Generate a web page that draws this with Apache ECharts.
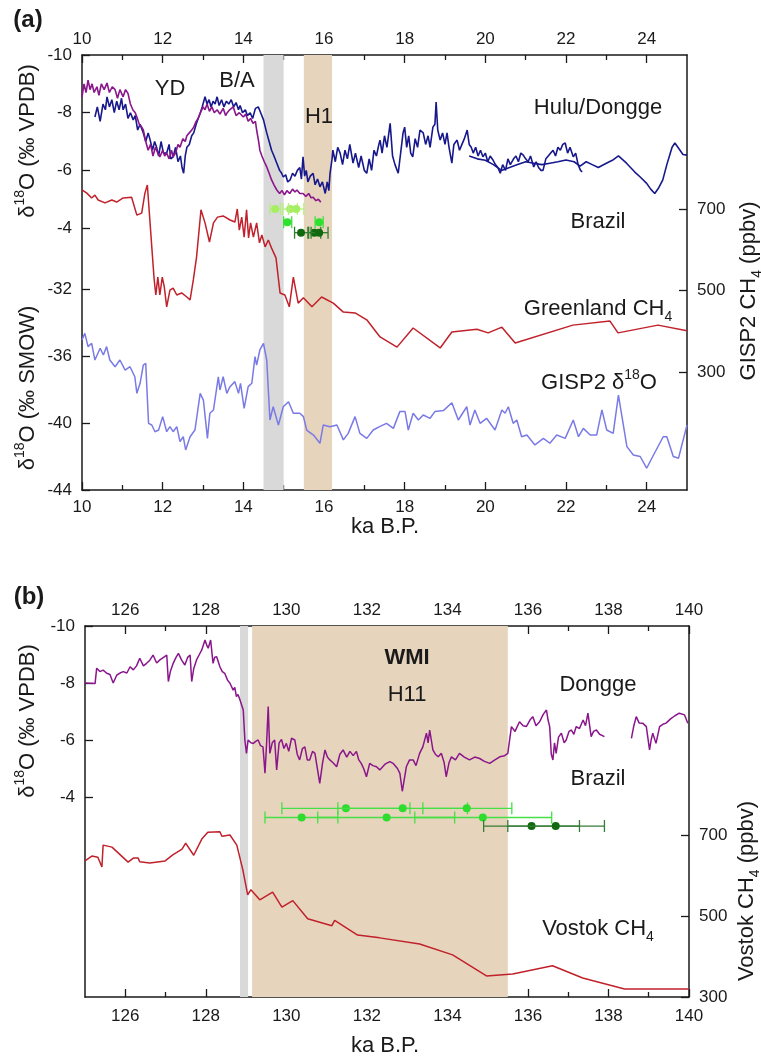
<!DOCTYPE html>
<html><head><meta charset="utf-8">
<script src="https://cdn.jsdelivr.net/npm/echarts@6/dist/echarts.min.js"></script>
<style>html,body{margin:0;padding:0;background:#fff}#c{width:761px;height:1057px}</style>
</head><body><div id="c"></div>
<script>
// ---------------- DATA ----------------
// Panel (a) x ticks (ka B.P.)
const xTicksA = [10,12,14,16,18,20,22,24];
const xMinorA = [11,13,15,17,19,21,23];
const xTicksB = [126,128,130,132,134,136,138,140];
const xMinorB = [127,129,131,133,135,137,139];
const yTicksVPDB = [-10,-8,-6,-4];
const yTicksSMOW = [-44,-40,-36,-32];
const yTicksCH4 = [300,500,700];

// Hulu (noisy) speleothem d18O, panel (a)
const huluA = [[10.32,-7.85],[10.38,-8.2],[10.45,-7.7],[10.52,-8.3],[10.58,-8.1],[10.62,-8.55],[10.68,-8.2],[10.74,-8.45],[10.8,-8.0],[10.86,-8.4],[10.92,-8.1],[10.98,-8.5],[11.02,-8.1],[11.08,-8.3],[11.14,-7.8],[11.2,-8.0],[11.27,-7.75],[11.32,-7.9],[11.38,-7.4],[11.44,-7.6],[11.52,-7.3],[11.58,-7.0],[11.64,-7.3],[11.69,-7.05],[11.75,-6.7],[11.8,-7.0],[11.85,-6.8],[11.9,-6.5],[11.96,-7.0],[12.02,-6.6],[12.1,-6.6],[12.16,-6.9],[12.2,-6.4],[12.26,-6.47],[12.32,-6.8],[12.38,-6.3],[12.44,-6.5],[12.48,-6.1],[12.52,-5.9],[12.56,-6.5],[12.6,-6.8],[12.66,-6.9],[12.72,-7.2],[12.77,-7.3],[12.83,-7.6],[12.88,-7.8],[12.93,-7.98],[12.98,-8.2],[13.05,-8.55],[13.1,-8.3],[13.15,-8.45],[13.2,-8.2],[13.25,-8.4],[13.3,-8.3],[13.35,-8.55],[13.4,-8.25],[13.46,-8.45],[13.52,-8.2],[13.58,-8.4],[13.64,-8.3],[13.7,-8.45],[13.76,-8.2],[13.82,-8.35],[13.88,-8.1],[13.92,-8.25],[13.98,-8.0],[14.05,-8.1],[14.1,-7.9],[14.17,-8.0],[14.23,-7.8],[14.3,-8.15],[14.37,-8.2],[14.43,-8.0],[14.5,-7.75],[14.58,-7.3],[14.64,-7.0],[14.7,-6.7],[14.76,-6.5],[14.83,-6.25],[14.9,-6.0],[14.95,-5.9],[14.99,-5.77],[15.05,-5.85],[15.1,-5.6],[15.16,-5.67],[15.22,-5.9],[15.28,-5.8],[15.34,-6.0],[15.4,-6.1],[15.44,-5.7],[15.48,-6.47],[15.52,-5.8],[15.56,-6.0],[15.6,-5.6],[15.66,-5.8],[15.73,-5.9],[15.78,-5.5],[15.84,-5.7],[15.9,-5.43],[15.96,-5.6],[16.03,-5.2],[16.08,-5.6],[16.12,-5.3],[16.15,-5.9],[16.2,-6.4],[16.22,-6.7],[16.28,-6.3],[16.34,-6.8],[16.4,-6.6],[16.46,-6.2],[16.52,-6.7],[16.58,-6.4],[16.64,-6.9],[16.72,-6.25],[16.78,-6.6],[16.86,-6.1],[16.92,-6.5],[17.0,-6.0],[17.06,-5.9],[17.12,-6.4],[17.18,-6.0],[17.24,-6.7],[17.3,-6.5],[17.36,-6.9],[17.39,-7.05],[17.44,-6.6],[17.5,-7.2],[17.56,-6.8],[17.64,-7.63],[17.7,-6.5],[17.76,-6.2],[17.84,-5.9],[17.9,-6.6],[17.96,-7.3],[18.0,-7.5],[18.05,-6.8],[18.1,-7.2],[18.15,-6.6],[18.2,-6.47],[18.26,-7.1],[18.32,-6.8],[18.38,-7.4],[18.46,-7.3],[18.52,-6.9],[18.58,-7.2],[18.63,-6.8],[18.7,-7.5],[18.75,-7.6],[18.78,-8.37],[18.82,-7.4],[18.88,-7.05],[18.94,-7.3],[19.0,-6.9],[19.05,-7.3],[19.1,-6.8],[19.17,-6.25],[19.22,-6.9],[19.3,-7.05],[19.36,-6.7],[19.42,-6.9],[19.48,-7.1],[19.55,-7.4],[19.6,-6.9],[19.65,-6.8],[19.7,-6.6],[19.76,-6.8],[19.82,-6.5],[19.88,-6.7],[19.94,-6.47],[20.0,-6.6],[20.06,-6.3],[20.12,-6.5],[20.19,-6.36],[20.25,-6.2],[20.31,-6.1],[20.37,-5.9],[20.43,-6.2],[20.5,-6.0],[20.56,-6.4],[20.62,-6.2],[20.7,-6.4],[20.76,-6.5],[20.82,-6.3],[20.88,-6.6],[20.94,-6.53],[21.0,-6.4],[21.06,-6.3],[21.12,-6.5],[21.2,-6.12],[21.26,-6.3],[21.32,-6.1],[21.38,-6.0],[21.43,-6.0],[21.5,-6.4],[21.56,-6.5],[21.62,-6.6],[21.68,-6.7],[21.74,-6.5],[21.8,-6.8],[21.86,-6.7],[21.92,-6.9],[21.98,-6.95],[22.04,-6.6],[22.1,-6.8],[22.18,-6.47],[22.24,-6.6],[22.3,-6.2],[22.36,-6.0],[22.4,-5.95]];

// Hulu/Dongge (smooth) d18O, panel (a)
const hulu2A = [[19.6,-6.5],[19.8,-6.4],[20.0,-6.35],[20.2,-6.2],[20.4,-6.0],[20.6,-6.1],[20.8,-6.2],[21.0,-6.3],[21.2,-6.25],[21.4,-6.2],[21.6,-6.25],[21.8,-6.3],[22.0,-6.36],[22.2,-6.3],[22.35,-6.15],[22.5,-6.3],[22.65,-6.2],[22.8,-6.1],[23.0,-6.25],[23.15,-6.35],[23.3,-6.5],[23.5,-6.25],[23.7,-5.95],[23.84,-5.77],[24.0,-5.55],[24.1,-5.35],[24.2,-5.2],[24.3,-5.4],[24.4,-5.67],[24.5,-6.2],[24.63,-6.8],[24.7,-6.95],[24.8,-6.75],[24.9,-6.55],[25.0,-6.53]];

// Dongge d18O, panel (a)
const donggeA = [[10.0,-8.55],[10.05,-9.0],[10.1,-8.7],[10.15,-9.13],[10.2,-8.8],[10.25,-9.0],[10.3,-8.7],[10.37,-8.9],[10.42,-8.6],[10.48,-9.0],[10.55,-8.8],[10.62,-9.03],[10.68,-8.7],[10.75,-8.9],[10.82,-8.8],[10.88,-8.5],[10.94,-8.8],[11.02,-8.55],[11.08,-8.8],[11.14,-8.67],[11.2,-8.3],[11.26,-8.1],[11.32,-8.0],[11.36,-7.85],[11.42,-7.6],[11.48,-7.5],[11.52,-7.4],[11.58,-7.0],[11.64,-6.7],[11.7,-6.9],[11.76,-6.5],[11.82,-6.8],[11.88,-6.6],[11.93,-6.47],[12.0,-6.7],[12.05,-6.5],[12.1,-6.6],[12.16,-6.4],[12.22,-6.7],[12.26,-6.47],[12.32,-6.6],[12.38,-6.9],[12.43,-6.8],[12.5,-7.1],[12.56,-7.0],[12.6,-7.2],[12.66,-7.3],[12.72,-7.4],[12.77,-7.5],[12.83,-7.7],[12.88,-7.8],[12.93,-7.98],[13.0,-8.2],[13.05,-8.1],[13.1,-8.3],[13.16,-8.05],[13.22,-8.2],[13.28,-8.0],[13.35,-8.1],[13.42,-7.95],[13.5,-8.15],[13.56,-7.9],[13.6,-8.0],[13.66,-8.1],[13.75,-8.2],[13.82,-7.9],[13.9,-8.0],[14.0,-7.85],[14.06,-7.95],[14.12,-7.7],[14.18,-7.8],[14.24,-7.63],[14.3,-7.7],[14.33,-7.4],[14.38,-7.0],[14.41,-6.7],[14.46,-6.5],[14.52,-6.3],[14.58,-6.12],[14.64,-5.9],[14.7,-5.67],[14.76,-5.5],[14.83,-5.32],[14.9,-5.2],[14.96,-5.3],[15.02,-5.15],[15.08,-5.3],[15.15,-5.2],[15.22,-5.35],[15.28,-5.25],[15.33,-5.32],[15.4,-5.2],[15.48,-5.2],[15.55,-5.1],[15.62,-5.2],[15.68,-5.05],[15.73,-5.07],[15.8,-4.95],[15.86,-5.0],[15.92,-4.9]];

// GISP2 CH4 (ppbv), panel (a)
const gispCH4 = [[10.0,747],[10.12,739],[10.24,727],[10.32,734],[10.4,722],[10.57,715],[10.74,722],[10.86,717],[11.02,727],[11.23,729],[11.36,685],[11.48,690],[11.56,739],[11.62,759],[11.67,690],[11.73,607],[11.79,526],[11.83,489],[11.88,533],[11.93,489],[11.99,533],[12.04,509],[12.1,460],[12.18,501],[12.26,506],[12.35,489],[12.47,494],[12.6,484],[12.68,477],[12.76,526],[12.84,582],[12.95,698],[13.05,666],[13.16,619],[13.26,666],[13.36,680],[13.5,683],[13.67,673],[13.79,668],[13.85,700],[13.9,648],[13.96,680],[14.02,631],[14.08,698],[14.13,629],[14.18,666],[14.25,631],[14.33,666],[14.4,617],[14.46,636],[14.54,607],[14.62,624],[14.7,604],[14.81,580],[14.91,494],[15.03,489],[15.14,460],[15.24,533],[15.36,469],[15.49,482],[15.7,460],[15.94,484],[16.23,469],[16.48,447],[16.77,445],[17.06,428],[17.39,386],[17.81,361],[18.21,408],[18.88,359],[19.17,398],[19.79,405],[20.07,396],[20.41,410],[20.74,371],[22.17,415],[23.09,425],[23.29,396],[24.28,415],[25.0,401]];

// GISP2 d18O (permil SMOW), panel (a)
const gispD18O = [[10.0,-35.04],[10.07,-34.65],[10.15,-35.44],[10.24,-35.24],[10.32,-36.24],[10.45,-35.54],[10.53,-35.94],[10.61,-35.44],[10.69,-36.24],[10.82,-36.64],[10.94,-36.24],[11.07,-36.84],[11.19,-36.64],[11.31,-37.24],[11.36,-38.23],[11.44,-37.63],[11.52,-36.54],[11.58,-36.44],[11.65,-40.02],[11.73,-40.12],[11.81,-40.52],[11.9,-40.42],[12.0,-39.62],[12.1,-40.52],[12.18,-40.22],[12.26,-40.52],[12.35,-40.22],[12.43,-41.11],[12.51,-40.82],[12.57,-41.61],[12.68,-40.82],[12.8,-40.42],[12.93,-38.23],[13.01,-38.63],[13.11,-40.92],[13.17,-39.42],[13.26,-39.22],[13.38,-37.24],[13.42,-38.03],[13.5,-37.24],[13.59,-38.23],[13.67,-37.83],[13.79,-37.53],[13.88,-38.23],[13.93,-37.63],[14.02,-39.13],[14.12,-37.83],[14.21,-37.63],[14.29,-36.04],[14.33,-36.54],[14.41,-35.64],[14.5,-35.24],[14.58,-36.24],[14.66,-39.82],[14.74,-39.03],[14.87,-40.12],[14.99,-39.03],[15.12,-38.73],[15.24,-39.42],[15.4,-39.42],[15.49,-39.62],[15.57,-40.42],[15.74,-40.72],[15.9,-41.21],[15.98,-40.12],[16.15,-40.22],[16.32,-40.12],[16.48,-41.01],[16.6,-40.62],[16.77,-39.62],[16.89,-40.62],[17.06,-40.92],[17.22,-40.42],[17.39,-40.2],[17.55,-40.02],[17.72,-40.32],[17.88,-39.32],[18.01,-39.32],[18.09,-40.42],[18.21,-39.42],[18.34,-39.82],[18.46,-39.52],[18.63,-39.72],[18.75,-39.32],[18.96,-39.26],[19.17,-38.79],[19.33,-39.82],[19.54,-39.03],[19.62,-40.12],[19.74,-39.22],[19.87,-40.02],[20.03,-39.72],[20.24,-40.42],[20.41,-39.22],[20.49,-39.42],[20.57,-39.03],[20.69,-40.02],[20.78,-39.82],[20.9,-40.82],[21.03,-40.72],[21.23,-41.31],[21.44,-40.92],[21.6,-41.21],[21.77,-40.72],[21.98,-40.92],[22.18,-39.82],[22.31,-40.82],[22.43,-40.32],[22.6,-40.72],[22.76,-40.72],[22.89,-39.22],[23.01,-40.42],[23.17,-40.62],[23.3,-38.33],[23.51,-41.41],[23.67,-41.91],[23.84,-42.0],[24.0,-42.7],[24.17,-41.91],[24.41,-40.82],[24.5,-40.82],[24.66,-42.0],[24.79,-42.1],[25.0,-40.12]];

// Brazil speleothem growth ages [age, plot level, age - err, age + err], panel (a)
const brazilA_light  = [[14.79,-4.66,14.66,14.92],[15.16,-4.66,14.98,15.34],[15.31,-4.66,15.12,15.5]];
const brazilA_bright = [[15.09,-4.2,15.0,15.2],[15.88,-4.2,15.78,15.98]];
const brazilA_dark   = [[15.43,-3.84,15.27,15.6],[15.76,-3.84,15.62,15.92],[15.88,-3.84,15.68,16.1]];

// Dongge d18O, panel (b)
const donggeB = [[125.0,-8.0],[125.25,-7.98],[125.29,-8.52],[125.37,-8.4],[125.45,-8.45],[125.54,-8.34],[125.62,-8.3],[125.7,-8.0],[125.79,-8.28],[125.87,-8.35],[125.95,-8.4],[126.04,-8.35],[126.12,-8.57],[126.2,-8.46],[126.28,-8.6],[126.36,-8.87],[126.45,-8.6],[126.53,-8.69],[126.61,-8.8],[126.69,-8.98],[126.78,-8.7],[126.86,-8.81],[126.95,-8.9],[127.03,-8.98],[127.07,-8.05],[127.12,-8.4],[127.19,-8.69],[127.26,-8.9],[127.32,-9.04],[127.4,-8.8],[127.48,-8.63],[127.55,-8.9],[127.61,-8.98],[127.65,-8.05],[127.7,-8.5],[127.77,-8.81],[127.84,-9.0],[127.9,-9.16],[127.98,-9.51],[128.03,-9.3],[128.06,-9.22],[128.12,-9.51],[128.18,-8.69],[128.22,-8.9],[128.27,-8.92],[128.35,-8.57],[128.41,-8.4],[128.47,-8.34],[128.54,-8.1],[128.6,-7.99],[128.68,-7.75],[128.72,-7.85],[128.76,-7.52],[128.8,-7.6],[128.85,-7.4],[128.93,-7.05],[128.97,-6.0],[129.01,-5.53],[129.05,-6.0],[129.12,-5.9],[129.18,-5.88],[129.24,-5.95],[129.3,-6.0],[129.36,-5.8],[129.42,-5.76],[129.47,-4.83],[129.51,-5.88],[129.55,-7.17],[129.59,-5.53],[129.65,-5.9],[129.71,-6.0],[129.76,-4.95],[129.82,-5.9],[129.88,-6.02],[129.94,-5.7],[130.0,-5.88],[130.06,-5.6],[130.13,-6.06],[130.21,-6.0],[130.27,-5.5],[130.33,-5.3],[130.4,-5.7],[130.46,-5.76],[130.52,-5.3],[130.58,-5.3],[130.65,-5.6],[130.71,-5.53],[130.77,-5.0],[130.83,-4.48],[130.9,-5.2],[130.96,-5.65],[131.02,-5.4],[131.08,-5.3],[131.16,-5.2],[131.25,-5.06],[131.33,-5.5],[131.41,-5.65],[131.5,-5.4],[131.58,-5.6],[131.66,-5.45],[131.74,-5.6],[131.8,-5.3],[131.86,-5.18],[131.92,-5.0],[131.99,-4.71],[132.07,-5.18],[132.15,-5.1],[132.24,-5.06],[132.32,-4.95],[132.45,-5.15],[132.57,-5.24],[132.65,-5.18],[132.76,-5.0],[132.82,-4.83],[132.88,-4.2],[132.98,-5.06],[133.06,-5.3],[133.15,-5.3],[133.22,-5.1],[133.31,-5.53],[133.39,-5.76],[133.48,-6.24],[133.52,-5.9],[133.56,-6.35],[133.64,-5.65],[133.7,-5.5],[133.77,-5.41],[133.85,-5.53],[133.92,-5.2],[133.97,-4.71],[134.04,-5.2],[134.1,-5.41],[134.2,-5.3],[134.3,-5.53],[134.42,-5.4],[134.55,-5.3],[134.68,-5.4],[134.8,-5.35],[134.92,-5.25],[135.05,-5.18],[135.18,-5.3],[135.3,-5.41],[135.42,-5.45],[135.5,-5.53],[135.59,-6.47],[135.68,-6.3],[135.79,-6.64],[135.88,-6.5],[135.96,-6.47],[136.05,-6.7],[136.12,-6.82],[136.2,-6.5],[136.29,-6.64],[136.38,-6.9],[136.46,-7.05],[136.5,-6.7],[136.54,-6.47],[136.58,-5.5],[136.62,-5.3],[136.66,-5.9],[136.7,-5.53],[136.76,-6.1],[136.83,-6.24],[136.9,-5.9],[136.95,-6.0],[137.02,-6.3],[137.08,-6.35],[137.14,-6.2],[137.2,-6.47],[137.28,-6.4],[137.37,-6.7],[137.43,-6.5],[137.49,-6.94],[137.57,-6.12],[137.63,-6.3],[137.7,-6.35],[137.78,-6.2],[137.9,-6.12],[138.2,null],[138.57,-6.06],[138.63,-6.5],[138.69,-6.82],[138.76,-6.6],[138.85,-6.59],[138.94,-6.47],[139.02,-5.65],[139.06,-6.0],[139.1,-6.24],[139.18,-5.88],[139.27,-6.47],[139.35,-6.55],[139.43,-6.59],[139.55,-6.75],[139.65,-6.85],[139.76,-6.94],[139.89,-6.88],[139.97,-6.59]];

// Vostok CH4 (ppbv), panel (b)
const vostokCH4 = [[125.0,636],[125.17,648],[125.32,645],[125.42,621],[125.45,675],[125.67,670],[126.07,633],[126.2,643],[126.32,643],[126.36,634],[126.61,631],[126.99,636],[127.18,651],[127.41,665],[127.5,680],[127.7,650],[127.9,690],[128.05,707],[128.35,708],[128.4,697],[128.6,700],[128.77,675],[128.92,614],[129.04,552],[129.12,565],[129.34,540],[129.66,559],[129.89,522],[130.16,538],[130.53,493],[131.13,476],[131.2,489],[131.77,453],[132.32,446],[133.31,431],[134.13,404],[134.97,352],[135.62,357],[136.61,377],[137.36,347],[138.4,320],[140.0,320]];

// Brazil growth ages, panel (b)
const brazilB_bright = [[131.48,-3.6,129.89,133.07],[132.89,-3.6,131.28,134.5],[134.48,-3.6,133.39,135.6],[130.38,-3.28,129.47,131.28],[132.49,-3.28,130.78,134.18],[134.88,-3.28,133.19,136.59]];
const brazilB_dark = [[136.09,-2.98,134.9,137.28],[136.69,-2.98,135.5,137.9]];

// Shaded intervals (ka)
const greyBandA = [14.5, 15.0];
const tanBandA  = [15.5, 16.2];
const greyBandB = [128.85, 129.05];
const tanBandB  = [129.15, 135.5];

// ---------------- STYLE / LAYOUT ----------------
const FONT = "'Liberation Sans', Arial, Helvetica, sans-serif";
const INK = '#1a1a1a';
const TICKFONT = 17;
const ANNOT = 22;
const C = {navy:'#17188c', purple:'#8a168c', red:'#c0212b', lblue:'#7a7ae6',
  grey:'#d9d9d9', tan:'#e7d4bd'};

function xAx(grid, pos, min, max, ticks, major, margin){
  return {type:'value', gridIndex:grid, position:pos, min, max, silent:true,
    axisLine:{show:major, onZero:false, lineStyle:{color:INK, width:1.5}},
    axisTick:{show:true, inside:true, length:major?8:5, customValues:ticks, lineStyle:{color:INK, width:1.3}},
    axisLabel:{show:major, customValues:ticks, margin:margin||8, fontFamily:FONT, fontSize:TICKFONT, color:INK, hideOverlap:false},
    splitLine:{show:false}, minorTick:{show:false}};
}
function yAx(grid, pos, min, max, ticks, inverse, showLine){
  return {type:'value', gridIndex:grid, position:pos, min, max, inverse, silent:true,
    axisLine:{show:showLine, onZero:false, lineStyle:{color:INK, width:1.5}},
    axisTick:{show:true, inside:true, length:8, customValues:ticks, lineStyle:{color:INK, width:1.3}},
    axisLabel:{show:true, customValues:ticks, margin:10, fontFamily:FONT, fontSize:TICKFONT, color:INK, hideOverlap:false},
    splitLine:{show:false}};
}
function line(data, xi, yi, color, w, z){
  return {type:'line', xAxisIndex:xi, yAxisIndex:yi, data, showSymbol:false, symbol:'none',
    lineStyle:{color, width:w}, itemStyle:{color}, z:z, silent:true, connectNulls:false, animation:false};
}
function errBars(data, xi, yi, lineColor, dotColor){
  return {type:'custom', xAxisIndex:xi, yAxisIndex:yi, data, z:6, silent:true, animation:false,
    encode:{x:[0,2,3], y:1},
    renderItem:function(params, api){
      const y = api.value(1);
      const c = api.coord([api.value(0), y]);
      const l = api.coord([api.value(2), y]);
      const h = api.coord([api.value(3), y]);
      const st = {stroke:lineColor, lineWidth:1.3};
      return {type:'group', children:[
        {type:'line', shape:{x1:l[0], y1:l[1], x2:h[0], y2:h[1]}, style:st},
        {type:'line', shape:{x1:l[0], y1:l[1]-6, x2:l[0], y2:l[1]+6}, style:st},
        {type:'line', shape:{x1:h[0], y1:h[1]-6, x2:h[0], y2:h[1]+6}, style:st},
        {type:'circle', shape:{cx:c[0], cy:c[1], r:4}, style:{fill:dotColor}}
      ]};
    }};
}
function bands(xi, yi, grey, tan){
  return {type:'line', xAxisIndex:xi, yAxisIndex:yi, data:[], z:1, silent:true, animation:false,
    markArea:{silent:true, animation:false, data:[
      [{xAxis:grey[0], itemStyle:{color:C.grey, opacity:1}}, {xAxis:grey[1]}],
      [{xAxis:tan[0], itemStyle:{color:C.tan, opacity:1}}, {xAxis:tan[1]}]
    ]}};
}
function richSet(sz){
  const s = Math.round(sz*0.62);
  return {
    n:{fontSize:sz, fontFamily:FONT, fill:INK, color:INK, lineHeight:sz+8},
    sup:{fontSize:s, fontFamily:FONT, fill:INK, color:INK, verticalAlign:'top'},
    sub:{fontSize:s, fontFamily:FONT, fill:INK, color:INK, verticalAlign:'bottom'}
  };
}
function T(x, y, text, size, opt){
  opt = opt || {};
  const st = {text, align:'center', verticalAlign:'middle', textAlign:'center', textVerticalAlign:'middle',
    font:(opt.bold?'bold ':'')+size+'px '+FONT, fill:INK};
  if (opt.rich) st.rich = richSet(size);
  return {type:'text', x, y, rotation:opt.rot||0, silent:true, z:100, style:st};
}

const chart = echarts.init(document.getElementById('c'), null, {renderer:'canvas', width:761, height:1057});
const option = {
  animation:false,
  backgroundColor:'#fff',
  grid:[
    {left:82, top:55, width:605, height:435, outerBoundsMode:'none', containLabel:false},
    {left:85, top:626, width:604, height:371, outerBoundsMode:'none', containLabel:false}
  ],
  xAxis:[
    xAx(0,'bottom',10,25,xTicksA,true,9),
    xAx(0,'bottom',10,25,xMinorA,false),
    xAx(0,'top',10,25,xTicksA,true,7),
    xAx(0,'top',10,25,xMinorA,false),
    xAx(1,'bottom',125,140,xTicksB,true,11),
    xAx(1,'bottom',125,140,xMinorB,false),
    xAx(1,'top',125,140,xTicksB,true,7),
    xAx(1,'top',125,140,xMinorB,false)
  ],
  yAxis:[
    yAx(0,'left',-10,5.08,yTicksVPDB,true,true),
    yAx(0,'left',-44,-18.03,yTicksSMOW,false,false),
    yAx(0,'right',10.4,1077.9,yTicksCH4,false,true),
    yAx(1,'left',-10,3.02,yTicksVPDB,true,true),
    yAx(1,'right',300,1216,yTicksCH4,false,true)
  ],
  series:[
    bands(0,0,greyBandA,tanBandA),
    line(gispD18O,0,1,C.lblue,1.5,3),
    line(gispCH4,0,2,C.red,1.5,3),
    line(hulu2A,0,0,C.navy,1.6,3),
    line(huluA,0,0,C.navy,1.6,4),
    line(donggeA,0,0,C.purple,1.6,4),
    errBars(brazilA_light,0,0,'#b4f07e','#a6ee62'),
    errBars(brazilA_bright,0,0,'#3fe03f','#2fe02f'),
    errBars(brazilA_dark,0,0,'#2c7e2c','#10680f'),
    bands(4,3,greyBandB,tanBandB),
    line(donggeB,4,3,C.purple,1.5,4),
    line(vostokCH4,4,4,C.red,1.5,3),
    errBars(brazilB_bright,4,3,'#45e045','#2edc2e'),
    errBars(brazilB_dark,4,3,'#357d35','#0f6a10')
  ],
  graphic:{elements:[
    T(28,20,'(a)',24,{bold:true}),
    T(170,89,'YD',ANNOT),
    T(237,81,'B/A',ANNOT),
    T(319,117,'H1',ANNOT),
    T(598,108,'Hulu/Dongge',ANNOT),
    T(598,222,'Brazil',ANNOT),
    T(598,309,'{n|Greenland CH}{sub|4}',ANNOT,{rich:true}),
    T(599,383,'{n|GISP2 δ}{sup|18}{n|O}',ANNOT,{rich:true}),
    T(385,527,'ka B.P.',ANNOT),
    T(28,141,'{n|δ}{sup|18}{n|O (‰ VPDB)}',ANNOT,{rich:true, rot:Math.PI/2}),
    T(28,388,'{n|δ}{sup|18}{n|O (‰ SMOW)}',ANNOT,{rich:true, rot:Math.PI/2}),
    T(749,291,'{n|GISP2 CH}{sub|4}{n| (ppbv)}',ANNOT,{rich:true, rot:Math.PI/2}),
    T(29,597,'(b)',24,{bold:true}),
    T(407,658,'WMI',ANNOT,{bold:true}),
    T(407,695,'H11',ANNOT),
    T(598,685,'Dongge',ANNOT),
    T(598,779,'Brazil',ANNOT),
    T(598,929,'{n|Vostok CH}{sub|4}',ANNOT,{rich:true}),
    T(385,1046,'ka B.P.',ANNOT),
    T(28,721,'{n|δ}{sup|18}{n|O (‰ VPDB)}',ANNOT,{rich:true, rot:Math.PI/2}),
    T(747,891,'{n|Vostok CH}{sub|4}{n| (ppbv)}',ANNOT,{rich:true, rot:Math.PI/2})
  ]}
};
chart.setOption(option);
</script></body></html>
